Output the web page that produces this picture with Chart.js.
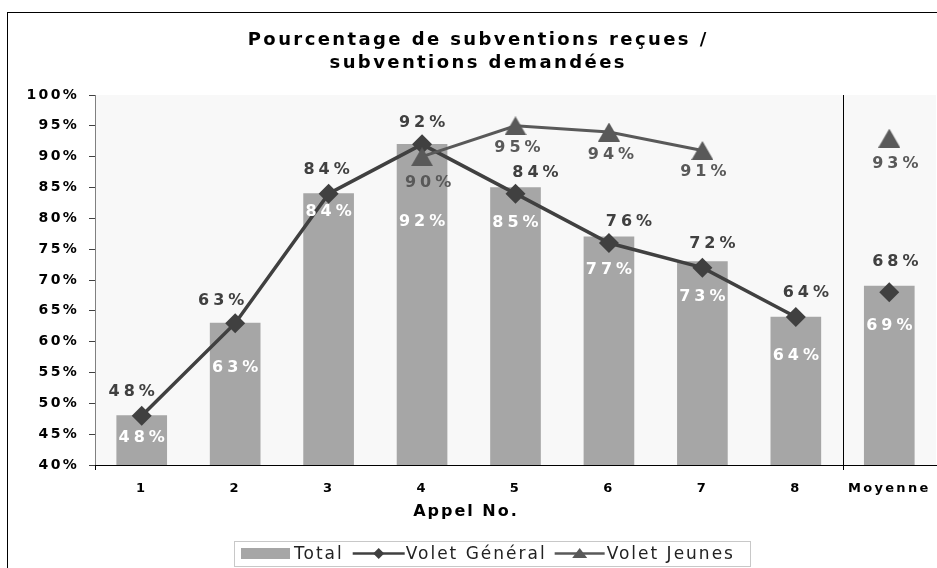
<!DOCTYPE html>
<html>
<head>
<meta charset="utf-8">
<script src="https://cdn.jsdelivr.net/npm/chart.js@4.4.1/dist/chart.umd.min.js"></script>
<style>
  html, body { margin: 0; padding: 0; background: #fff; }
  canvas { display: block; }
</style>
</head>
<body>
<canvas id="c" width="937" height="568"></canvas>
<script>
// ---- Data ----
const categories = ['1', '2', '3', '4', '5', '6', '7', '8', 'Moyenne'];
const totalValues = [48, 63, 84, 92, 85, 77, 73, 64, 69];
const generalValues = [48, 63, 84, 92, 84, 76, 72, 64, 68];
const jeunesValues = [null, null, null, 90, 95, 94, 91, null, 93];
const yMin = 40, yMax = 100, yStep = 5;
const titleLines = ['Pourcentage de subventions reçues /', 'subventions demandées'];
const xAxisTitle = 'Appel No.';
const seriesNames = ['Total', 'Volet Général', 'Volet Jeunes'];

// ---- Styles ----
const FONT = '"DejaVu Sans", Verdana, sans-serif';
const C_BAR = '#a6a6a6', C_GEN = '#404040', C_JEU = '#595959';

function triCanvas(w, h, color) {
  const c = document.createElement('canvas');
  c.width = w; c.height = h;
  const g = c.getContext('2d');
  g.fillStyle = color;
  g.beginPath(); g.moveTo(w / 2, 0); g.lineTo(w, h); g.lineTo(0, h); g.closePath(); g.fill();
  return c;
}
const triImg = triCanvas(22, 19, C_JEU);

// label offsets (style, relative to the drawn marks)
const labelStyle = {
  totalDy: [22, 45, 18, 78, 35, 33, 35, 39, 40],
  genOff: [[-10, -24], [-14, -22], [-2, -24], [0, -21], [20, -21], [20, -21.5], [10, -24], [10, -24.5], [6, -30]],
  jeuOff: [null, null, null, [6, 26], [2, 22], [2, 23], [1, 21.5], null, [6, 26]]
};

function spacedText(ctx, text, x, y, sp, align) {
  ctx.letterSpacing = sp + 'px';
  ctx.textAlign = align || 'center';
  const dx = (align === 'left') ? 0 : (align === 'right' ? sp : sp / 2);
  ctx.fillText(text, x + dx, y);
}

const deco = {
  id: 'deco',
  beforeLayout(chart) { chart.ctx.letterSpacing = '2.3px'; },
  beforeDraw(chart) {
    const { ctx, chartArea: a } = chart;
    ctx.save();
    ctx.letterSpacing = '0px';
    ctx.fillStyle = '#fff';
    ctx.fillRect(0, 0, chart.width, chart.height);
    ctx.fillStyle = '#f8f8f8';
    ctx.fillRect(a.left, a.top, a.right - a.left, a.bottom - a.top);
    ctx.strokeStyle = '#000';
    ctx.lineWidth = 1;
    ctx.strokeRect(7.5, 12.5, 3000, 3000);
    ctx.restore();
    ctx.letterSpacing = '2.3px';
  },
  beforeDatasetsDraw(chart) {
    const { ctx, chartArea: a } = chart;
    const xs = chart.scales.x;
    const sx = Math.round((xs.getPixelForValue(7) + xs.getPixelForValue(8)) / 2) + 0.5;
    ctx.save();
    ctx.strokeStyle = '#000';
    ctx.lineWidth = 1;
    ctx.beginPath();
    ctx.moveTo(sx, a.top); ctx.lineTo(sx, a.bottom + 5);
    ctx.moveTo(Math.round(a.left) + 0.5, a.bottom); ctx.lineTo(Math.round(a.left) + 0.5, a.bottom + 5);
    ctx.stroke();
    ctx.restore();
  },
  afterDatasetsDraw(chart) {
    const ctx = chart.ctx;
    ctx.save();
    ctx.font = 'bold 16px ' + FONT;
    ctx.textBaseline = 'middle';
    const bars = chart.getDatasetMeta(0).data;
    bars.forEach((b, i) => {
      ctx.fillStyle = '#fff';
      spacedText(ctx, totalValues[i] + '%', b.x, b.y + labelStyle.totalDy[i], 4);
    });
    const gen = chart.getDatasetMeta(1).data;
    gen.forEach((p, i) => {
      const o = labelStyle.genOff[i];
      ctx.fillStyle = C_GEN;
      spacedText(ctx, generalValues[i] + '%', p.x + o[0], p.y + o[1], 4);
    });
    const jeu = chart.getDatasetMeta(2).data;
    jeu.forEach((p, i) => {
      if (jeunesValues[i] == null) return;
      const o = labelStyle.jeuOff[i];
      ctx.fillStyle = C_JEU;
      spacedText(ctx, jeunesValues[i] + '%', p.x + o[0], p.y + o[1], 4);
    });
    ctx.restore();
    ctx.letterSpacing = '2.3px';
  },
  afterDraw(chart) {
    const ctx = chart.ctx;
    ctx.save();
    ctx.fillStyle = '#000';
    ctx.textBaseline = 'alphabetic';
    ctx.font = 'bold 18px ' + FONT;
    spacedText(ctx, titleLines[0], 477, 45, 2.4);
    spacedText(ctx, titleLines[1], 477, 68, 2.4);
    ctx.font = 'bold 16px ' + FONT;
    spacedText(ctx, xAxisTitle, 465, 516, 2);
    // Legend
    ctx.font = '17px ' + FONT;
    ctx.letterSpacing = '2px';
    const top = 541, bot = 566, cy = 553.5, base = 559;
    let x = 241;
    const items = [];
    items.push({ type: 'box', x0: x, x1: x + 49 });
    x += 53;
    items.push({ type: 'text', x: x, t: seriesNames[0] });
    x += ctx.measureText(seriesNames[0]).width + 9;
    items.push({ type: 'line', x0: x, x1: x + 52, c: C_GEN, m: 'diamond' });
    x += 53;
    items.push({ type: 'text', x: x, t: seriesNames[1] });
    x += ctx.measureText(seriesNames[1]).width + 8;
    items.push({ type: 'line', x0: x, x1: x + 50, c: C_JEU, m: 'tri' });
    x += 52;
    items.push({ type: 'text', x: x, t: seriesNames[2] });
    x += ctx.measureText(seriesNames[2]).width + 8;
    const boxL = 234.5, boxR = Math.max(750, Math.round(x)) + 0.5;
    ctx.fillStyle = '#fff';
    ctx.fillRect(boxL, top + 0.5, boxR - boxL, bot - top);
    ctx.strokeStyle = '#c8c8c8';
    ctx.lineWidth = 1;
    ctx.strokeRect(boxL, top + 0.5, boxR - boxL, bot - top);
    items.forEach(it => {
      if (it.type === 'box') {
        ctx.fillStyle = C_BAR;
        ctx.fillRect(it.x0, 548, it.x1 - it.x0, 11);
      } else if (it.type === 'text') {
        ctx.fillStyle = '#222';
        ctx.textAlign = 'left';
        ctx.fillText(it.t, it.x, base);
      } else {
        ctx.strokeStyle = it.c;
        ctx.lineWidth = 2.5;
        ctx.beginPath(); ctx.moveTo(it.x0, cy); ctx.lineTo(it.x1, cy); ctx.stroke();
        const mx = (it.x0 + it.x1) / 2;
        ctx.fillStyle = it.c;
        ctx.beginPath();
        if (it.m === 'diamond') {
          ctx.moveTo(mx, cy - 5.5); ctx.lineTo(mx + 5.5, cy); ctx.lineTo(mx, cy + 5.5); ctx.lineTo(mx - 5.5, cy);
        } else {
          ctx.moveTo(mx, cy - 5.5); ctx.lineTo(mx + 7.5, cy + 4.5); ctx.lineTo(mx - 7.5, cy + 4.5);
        }
        ctx.closePath(); ctx.fill();
      }
    });
    ctx.restore();
    ctx.letterSpacing = '0px';
  }
};

new Chart(document.getElementById('c'), {
  data: {
    labels: categories,
    datasets: [
      {
        type: 'bar', label: seriesNames[0], data: totalValues,
        backgroundColor: C_BAR, barThickness: 50, order: 3
      },
      {
        type: 'line', label: seriesNames[1], data: generalValues,
        borderColor: C_GEN, borderWidth: 3.5, tension: 0,
        pointStyle: 'rectRot', pointRadius: 10, pointHoverRadius: 10,
        pointBackgroundColor: C_GEN, pointBorderWidth: 0, order: 2,
        segment: { borderColor: c => c.p1DataIndex === 8 ? 'rgba(0,0,0,0)' : undefined }
      },
      {
        type: 'line', label: seriesNames[2], data: jeunesValues,
        borderColor: C_JEU, borderWidth: 3, tension: 0, spanGaps: false,
        pointStyle: triImg, pointRadius: 11, pointHoverRadius: 11,
        pointBackgroundColor: C_JEU, pointBorderWidth: 0, order: 1
      }
    ]
  },
  options: {
    responsive: false,
    animation: false,
    devicePixelRatio: 1,
    events: [],
    layout: { autoPadding: false, padding: { top: 95, left: 0, right: 1, bottom: 63 } },
    plugins: {
      legend: { display: false },
      title: { display: false },
      tooltip: { enabled: false }
    },
    scales: {
      x: {
        type: 'category',
        offset: true,
        grid: { display: false, drawTicks: false },
        border: { display: true, color: '#000', width: 1 },
        ticks: { color: '#000', padding: 16, maxRotation: 0, autoSkip: false, font: { family: FONT, size: 13, weight: 'bold' } },
        afterFit: s => { s.height = 40; s.paddingLeft = 0; s.paddingRight = 0; }
      },
      y: {
        type: 'linear',
        min: yMin, max: yMax,
        grid: { drawOnChartArea: false, drawTicks: true, tickLength: 6, color: '#404040' },
        border: { display: true, color: '#808080', width: 1 },
        ticks: {
          stepSize: yStep, color: '#000', padding: 10,
          font: { family: FONT, size: 14, weight: 'bold' },
          callback: v => v + '%'
        },
        afterFit: s => { s.width = 95; s.paddingTop = 0; s.paddingBottom = 0; }
      }
    }
  },
  plugins: [deco]
});
</script>
</body>
</html>
